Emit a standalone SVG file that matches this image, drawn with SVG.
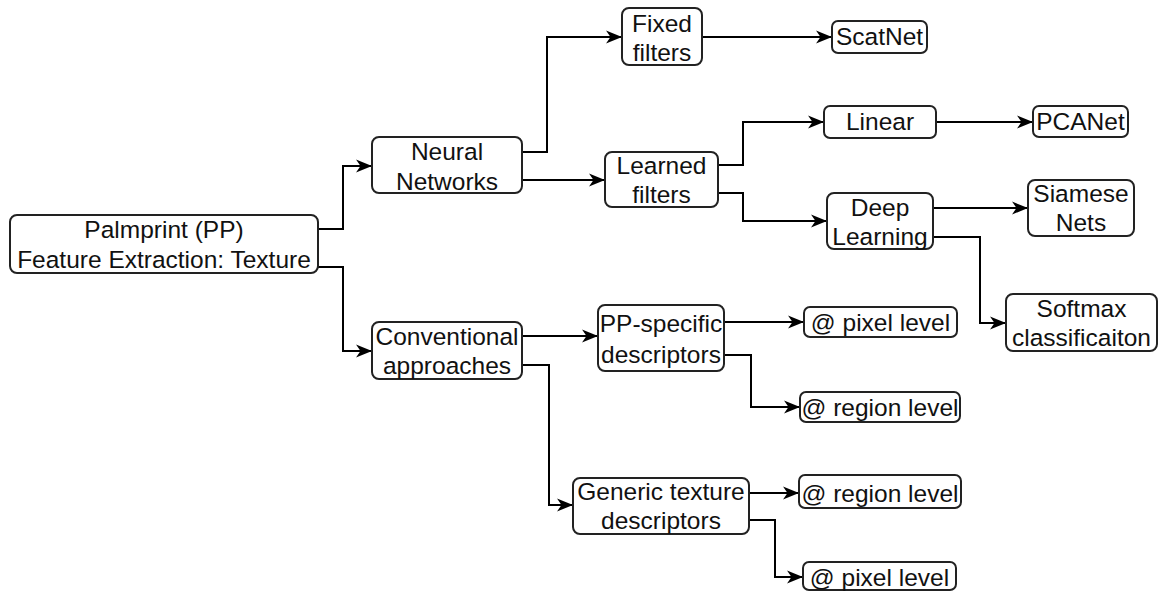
<svg xmlns="http://www.w3.org/2000/svg" width="1159" height="591" viewBox="0 0 1159 591">
  <style>
    .box { fill: #ffffff; stroke: #222222; stroke-width: 2; }
    .lbl { font-family: "Liberation Sans", Arial, sans-serif; font-size: 24.5px; fill: #111111; text-anchor: middle; }
    .edge { fill: none; stroke: #000000; stroke-width: 2; marker-end: url(#arrow); }
  </style>
  <defs>
    <marker id="arrow" markerUnits="userSpaceOnUse" markerWidth="17" markerHeight="14" refX="16" refY="7" orient="auto">
      <path d="M0,0.5 L16,7 L0,13.5 L4.5,7 Z" fill="#000000"/>
    </marker>
  </defs>
  <rect width="1159" height="591" fill="#ffffff"/>

  <g id="connectors">
    <path class="edge" d="M318,229 H343 V166 H372"/>
    <path class="edge" d="M318,267 H343 V351 H372"/>
    <path class="edge" d="M522,152 H547 V37 H622"/>
    <path class="edge" d="M522,180 H605"/>
    <path class="edge" d="M702,37 H832"/>
    <path class="edge" d="M718,165 H743 V122 H824"/>
    <path class="edge" d="M718,193 H743 V221 H827"/>
    <path class="edge" d="M936,122 H1033"/>
    <path class="edge" d="M933,208 H1028"/>
    <path class="edge" d="M933,237 H980 V323 H1006"/>
    <path class="edge" d="M522,336 H598"/>
    <path class="edge" d="M522,365 H549 V505 H573"/>
    <path class="edge" d="M724,322 H804"/>
    <path class="edge" d="M724,355 H751 V407 H800"/>
    <path class="edge" d="M749,493 H799"/>
    <path class="edge" d="M749,520 H775 V577 H803"/>
  </g>

  <g id="root">
    <rect class="box" x="10" y="215" width="308" height="58" rx="7"/>
    <text class="lbl" x="164" y="238">Palmprint (PP)</text>
    <text class="lbl" x="164" y="268">Feature Extraction: Texture</text>
  </g>
  <g id="neural">
    <rect class="box" x="372" y="137" width="150" height="56" rx="7"/>
    <text class="lbl" x="447" y="160">Neural</text>
    <text class="lbl" x="447" y="190">Networks</text>
  </g>
  <g id="fixed">
    <rect class="box" x="622" y="8" width="80" height="57" rx="7"/>
    <text class="lbl" x="662" y="32">Fixed</text>
    <text class="lbl" x="662" y="61">filters</text>
  </g>
  <g id="learned">
    <rect class="box" x="605" y="152" width="113" height="55" rx="7"/>
    <text class="lbl" x="661.5" y="174">Learned</text>
    <text class="lbl" x="661.5" y="203">filters</text>
  </g>
  <g id="scatnet">
    <rect class="box" x="832" y="21" width="95" height="32" rx="6"/>
    <text class="lbl" x="879.5" y="45">ScatNet</text>
  </g>
  <g id="linear">
    <rect class="box" x="824" y="106" width="112" height="32" rx="6"/>
    <text class="lbl" x="880" y="130">Linear</text>
  </g>
  <g id="pcanet">
    <rect class="box" x="1033" y="106" width="95" height="31" rx="6"/>
    <text class="lbl" x="1080.5" y="130">PCANet</text>
  </g>
  <g id="deep">
    <rect class="box" x="827" y="193" width="106" height="56" rx="7"/>
    <text class="lbl" x="880" y="216">Deep</text>
    <text class="lbl" x="880" y="245">Learning</text>
  </g>
  <g id="siamese">
    <rect class="box" x="1028" y="180" width="106" height="56" rx="7"/>
    <text class="lbl" x="1081" y="202">Siamese</text>
    <text class="lbl" x="1081" y="231">Nets</text>
  </g>
  <g id="softmax">
    <rect class="box" x="1006" y="294" width="151" height="57" rx="7"/>
    <text class="lbl" x="1081.5" y="317">Softmax</text>
    <text class="lbl" x="1081.5" y="346">classificaiton</text>
  </g>
  <g id="conventional">
    <rect class="box" x="372" y="322" width="150" height="57" rx="7"/>
    <text class="lbl" x="447" y="345">Conventional</text>
    <text class="lbl" x="447" y="374">approaches</text>
  </g>
  <g id="pp-specific">
    <rect class="box" x="598" y="305" width="126" height="66" rx="7"/>
    <text class="lbl" x="661" y="332">PP-specific</text>
    <text class="lbl" x="661" y="363">descriptors</text>
  </g>
  <g id="pp-pixel">
    <rect class="box" x="804" y="307" width="153" height="30" rx="6"/>
    <text class="lbl" x="880.5" y="331">@ pixel level</text>
  </g>
  <g id="pp-region">
    <rect class="box" x="800" y="392" width="160" height="30" rx="6"/>
    <text class="lbl" x="880" y="416">@ region level</text>
  </g>
  <g id="generic">
    <rect class="box" x="573" y="478" width="176" height="56" rx="7"/>
    <text class="lbl" x="661" y="500">Generic texture</text>
    <text class="lbl" x="661" y="529">descriptors</text>
  </g>
  <g id="generic-region">
    <rect class="box" x="799" y="475" width="162" height="33" rx="6"/>
    <text class="lbl" x="880" y="502">@ region level</text>
  </g>
  <g id="generic-pixel">
    <rect class="box" x="803" y="562" width="153" height="28" rx="6"/>
    <text class="lbl" x="879.5" y="586">@ pixel level</text>
  </g>
</svg>
